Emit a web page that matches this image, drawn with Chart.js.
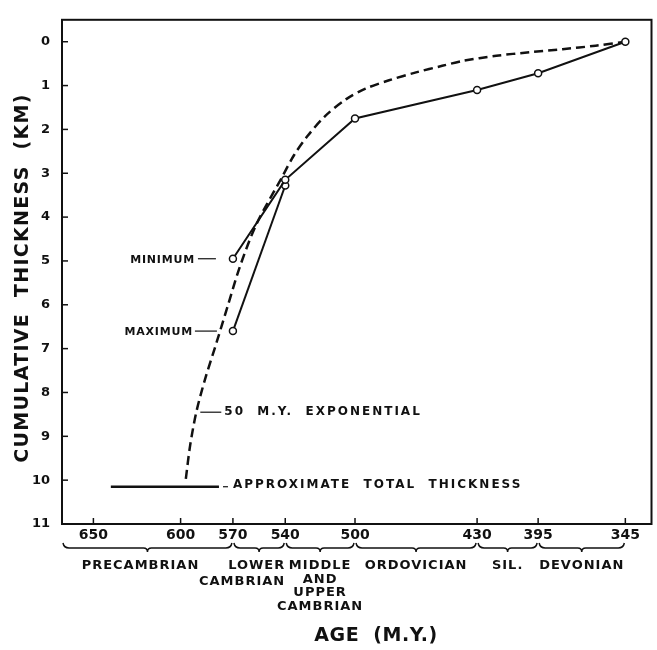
<!DOCTYPE html>
<html>
<head>
<meta charset="utf-8">
<script src="https://cdn.jsdelivr.net/npm/chart.js@4.4.1/dist/chart.umd.min.js"></script>
<style>
	html, body { margin: 0; padding: 0; background: #fff; }
	canvas { display: block; }
</style>
</head>
<body>
<canvas id="thicknessChart" width="657" height="650"></canvas>
<script>
const ages = [570, 540, 500, 430, 395, 345];
const minThickness = [4.95, 3.15, 1.75, 1.1, 0.72, 0];
const maxAges = [570, 540];
const maxThickness = [6.6, 3.28];
const expAges = [597, 594.5, 591, 586, 580, 573, 566, 556.5, 542, 535, 527, 517, 505, 494, 480.5, 465, 450, 438.5, 419, 400, 381, 362, 345];
const expThickness = [9.97, 9.2, 8.45, 7.7, 6.94, 6.03, 5.13, 4.16, 3.1, 2.59, 2.14, 1.69, 1.31, 1.07, 0.88, 0.7, 0.55, 0.44, 0.32, 0.24, 0.17, 0.09, 0];
const totalAges = [640, 578];
const totalThickness = [10.15, 10.15];

const ageTicks = [650, 600, 570, 540, 500, 430, 395, 345];
const thicknessTicks = [0, 1, 2, 3, 4, 5, 6, 7, 8, 9, 10, 11];

const periodNames = [['PRECAMBRIAN'], ['LOWER', 'CAMBRIAN'], ['MIDDLE', 'AND', 'UPPER', 'CAMBRIAN'], ['ORDOVICIAN'], ['SIL.'], ['DEVONIAN']];
const periodStart = [668, 570, 540, 500, 430, 395];
const periodEnd = [570, 540, 500, 430, 395, 345];

const ink = '#111';
const font = '"DejaVu Sans", sans-serif';

const toPoints = (xs, ys) => xs.map((x, i) => ({ x, y: ys[i] }));

function text(ctx, str, x, y, size, align, spacing) {
	ctx.font = `bold ${size}px ${font}`;
	ctx.letterSpacing = `${spacing || 0}px`;
	ctx.textAlign = align || 'left';
	ctx.textBaseline = 'middle';
	ctx.fillText(str, x, y);
}

function line(ctx, x1, y1, x2, y2) {
	ctx.beginPath();
	ctx.moveTo(x1, y1);
	ctx.lineTo(x2, y2);
	ctx.stroke();
}

function brace(ctx, x1, x2, y) {
	const mid = (x1 + x2) / 2;
	ctx.beginPath();
	ctx.moveTo(x1 + 1, y - 5);
	ctx.quadraticCurveTo(x1 + 2, y, x1 + 7, y);
	ctx.lineTo(mid - 4, y);
	ctx.quadraticCurveTo(mid, y, mid, y + 4);
	ctx.quadraticCurveTo(mid, y, mid + 4, y);
	ctx.lineTo(x2 - 7, y);
	ctx.quadraticCurveTo(x2 - 2, y, x2 - 1, y - 5);
	ctx.stroke();
}

const decorations = {
	id: 'decorations',
	afterDraw(chart) {
		const { ctx, chartArea: a, scales: { x, y } } = chart;
		ctx.save();
		ctx.strokeStyle = ink;
		ctx.fillStyle = ink;

		// frame and inward ticks
		ctx.lineWidth = 2;
		ctx.strokeRect(a.left, a.top, a.right - a.left, a.bottom - a.top);
		ctx.lineWidth = 1.5;
		ageTicks.forEach((v) => {
			const px = x.getPixelForValue(v);
			line(ctx, px, a.bottom, px, a.bottom - 6);
		});
		thicknessTicks.forEach((v) => {
			const py = y.getPixelForValue(v);
			line(ctx, a.left, py, a.left + 6, py);
		});

		// period braces and names
		ctx.lineWidth = 1.5;
		periodNames.forEach((names, i) => {
			const x1 = Math.max(x.getPixelForValue(periodStart[i]), a.left);
			const x2 = x.getPixelForValue(periodEnd[i]);
			brace(ctx, x1, x2, 548);
			const lh = names.length > 2 ? 13.5 : 16;
			names.forEach((n, j) => {
				if (names.length === 2) text(ctx, n, x2, 566 + j * lh, 13, 'right', 1);
				else text(ctx, n, (x1 + x2) / 2 - (i === 0 ? 7 : 0), 566 + j * lh, 13, 'center', 1);
			});
		});

		// callouts
		ctx.lineWidth = 1.2;
		const minX = x.getPixelForValue(ages[0]);
		const minY = y.getPixelForValue(minThickness[0]);
		text(ctx, 'MINIMUM', minX - 38, minY + 1, 11, 'right', 0.8);
		line(ctx, minX - 35, minY, minX - 17, minY);

		const maxX = x.getPixelForValue(maxAges[0]);
		const maxY = y.getPixelForValue(maxThickness[0]);
		text(ctx, 'MAXIMUM', maxX - 40, maxY + 1, 11, 'right', 0.8);
		line(ctx, maxX - 38, maxY, maxX - 16, maxY);

		const expX = x.getPixelForValue(expAges[2]);
		const expY = y.getPixelForValue(expThickness[2]);
		line(ctx, expX + 4, expY, expX + 25, expY);
		text(ctx, '50  M.Y.  EXPONENTIAL', expX + 28, expY, 12, 'left', 2);

		const totX = x.getPixelForValue(totalAges[1]);
		const totY = y.getPixelForValue(totalThickness[1]);
		line(ctx, totX + 4, totY, totX + 9, totY);
		text(ctx, 'APPROXIMATE  TOTAL  THICKNESS', totX + 14, totY - 2, 12, 'left', 2);

		// axis titles
		text(ctx, 'AGE  (M.Y.)', 376, 636, 19, 'center', 0.5);
		ctx.translate(23, 278);
		ctx.rotate(-Math.PI / 2);
		text(ctx, 'CUMULATIVE  THICKNESS  (KM)', 0, 0, 19, 'center', 1.3);
		ctx.restore();
	},
};

new Chart(document.getElementById('thicknessChart'), {
	type: 'line',
	data: {
		datasets: [
			{
				label: 'Minimum',
				data: toPoints(ages, minThickness),
				borderColor: ink,
				borderWidth: 2,
				pointRadius: 3.5,
				pointBorderWidth: 1.5,
				pointBackgroundColor: '#fff',
				pointBorderColor: ink,
				tension: 0,
			},
			{
				label: 'Maximum',
				data: toPoints(maxAges, maxThickness),
				borderColor: ink,
				borderWidth: 2,
				pointRadius: 3.5,
				pointBorderWidth: 1.5,
				pointBackgroundColor: '#fff',
				pointBorderColor: ink,
				tension: 0,
			},
			{
				label: '50 M.Y. exponential',
				data: toPoints(expAges, expThickness),
				borderColor: ink,
				borderWidth: 2.5,
				borderDash: [9, 5],
				pointRadius: 0,
				tension: 0.3,
			},
			{
				label: 'Approximate total thickness',
				data: toPoints(totalAges, totalThickness),
				borderColor: ink,
				borderWidth: 2.5,
				pointRadius: 0,
			},
		],
	},
	options: {
		responsive: false,
		animation: false,
		layout: { padding: { top: 18, right: 4, left: 0, bottom: 0 } },
		plugins: { legend: { display: false }, tooltip: { enabled: false } },
		scales: {
			x: {
				type: 'linear',
				reverse: true,
				min: 330,
				max: 668,
				grid: { display: false, drawTicks: false },
				border: { display: false },
				afterBuildTicks: (s) => { s.ticks = ageTicks.map((value) => ({ value })); },
				afterFit: (s) => { s.height = 126; },
				ticks: { color: ink, padding: 3, maxRotation: 0, autoSkip: false, font: { family: font, size: 14, weight: 'bold' } },
			},
			y: {
				type: 'linear',
				reverse: true,
				min: -0.5,
				max: 11,
				grid: { display: false, drawTicks: false },
				border: { display: false },
				afterBuildTicks: (s) => { s.ticks = thicknessTicks.map((value) => ({ value })); },
				afterFit: (s) => { s.width = 62; },
				ticks: { color: ink, padding: 12, autoSkip: false, font: { family: font, size: 13, weight: 'bold' } },
			},
		},
	},
	plugins: [decorations],
});
</script>
</body>
</html>
